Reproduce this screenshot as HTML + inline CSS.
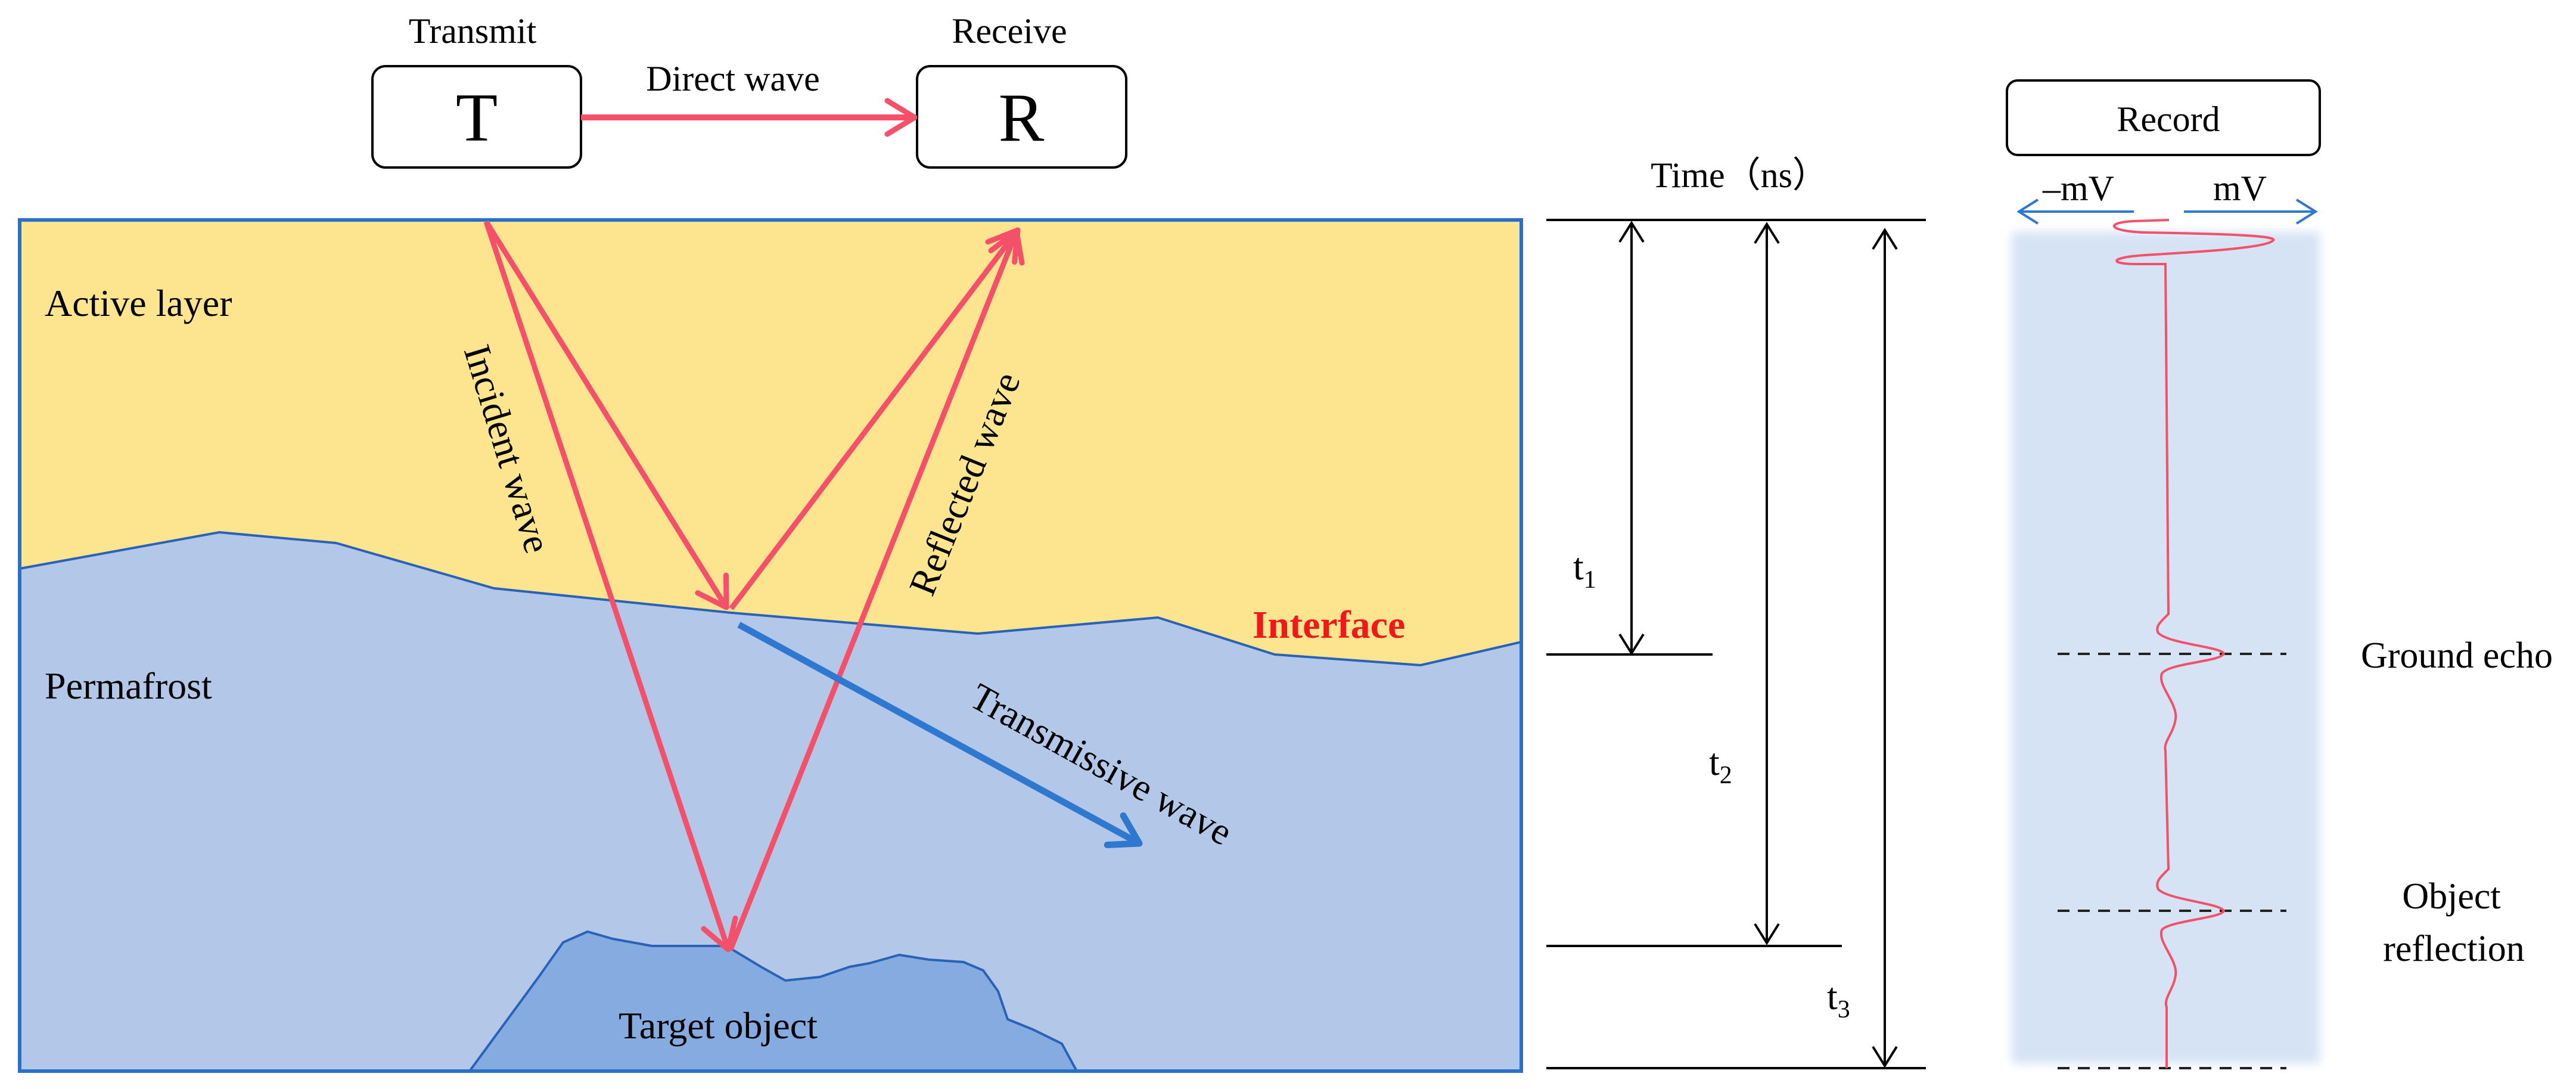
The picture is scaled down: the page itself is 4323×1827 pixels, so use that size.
<!DOCTYPE html>
<html><head><meta charset="utf-8"><style>
html,body{margin:0;padding:0;background:#fff;}
svg{display:block;font-family:"Liberation Serif","Times New Roman",serif;}
svg text{font-family:"Liberation Serif","Times New Roman",serif;}
</style></head><body>
<svg width="4323" height="1827" viewBox="0 0 4323 1827" xmlns="http://www.w3.org/2000/svg" font-family="Liberation Serif, serif">
<defs>
<marker id="ar" markerUnits="userSpaceOnUse" markerWidth="80" markerHeight="80" refX="56" refY="40" orient="auto">
<path d="M10,12 L56,40 L10,68" fill="none" stroke="#f4506a" stroke-width="9" stroke-linecap="round" stroke-linejoin="round"/></marker>
<marker id="ab" markerUnits="userSpaceOnUse" markerWidth="80" markerHeight="80" refX="56" refY="40" orient="auto">
<path d="M10,12 L56,40 L10,68" fill="none" stroke="#2f78d0" stroke-width="11" stroke-linecap="round" stroke-linejoin="round"/></marker>
<marker id="ak" markerUnits="userSpaceOnUse" markerWidth="60" markerHeight="60" refX="40" refY="30" orient="auto">
<path d="M8,10 L40,30 L8,50" fill="none" stroke="#000" stroke-width="4"/></marker>
<marker id="abl" markerUnits="userSpaceOnUse" markerWidth="60" markerHeight="60" refX="40" refY="30" orient="auto">
<path d="M8,10 L40,30 L8,50" fill="none" stroke="#2f78d0" stroke-width="4"/></marker>
<filter id="bl" x="-10%" y="-10%" width="120%" height="120%"><feGaussianBlur stdDeviation="8"/></filter>
</defs>

<!-- top boxes -->
<text x="793" y="72" font-size="60" text-anchor="middle">Transmit</text>
<text x="1694" y="72" font-size="60" text-anchor="middle">Receive</text>
<rect x="625" y="111" width="350" height="170" rx="22" fill="#fff" stroke="#000" stroke-width="4"/>
<rect x="1539" y="111" width="351" height="170" rx="22" fill="#fff" stroke="#000" stroke-width="4"/>
<text x="800" y="236" font-size="115" text-anchor="middle">T</text>
<text x="1714" y="236" font-size="115" text-anchor="middle">R</text>
<text x="1230" y="152" font-size="60" text-anchor="middle">Direct wave</text>
<line x1="975" y1="197" x2="1535" y2="197" stroke="#f4506a" stroke-width="10" marker-end="url(#ar)"/>

<!-- main box -->
<rect x="33" y="369" width="2520" height="1428" fill="#fde590"/>
<polygon points="33,954 368,893 564,911 829,987 1227,1028 1641,1063 1943,1036 2139,1098 2384,1116 2553,1077 2553,1797 33,1797" fill="#b3c8e8"/>
<polyline points="33,954 368,893 564,911 829,987 1227,1028 1641,1063 1943,1036 2139,1098 2384,1116 2553,1077" fill="none" stroke="#2a62b8" stroke-width="4"/>
<polygon points="788,1797 904,1639 945,1581 986,1563 1028,1575 1094,1587 1219,1587 1277,1622 1318,1645 1376,1639 1426,1622 1459,1616 1509,1602 1559,1610 1617,1614 1650,1628 1675,1663 1691,1710 1733,1727 1782,1751 1807,1797" fill="#86abe0" stroke="#2a62b8" stroke-width="4"/>
<rect x="33" y="369" width="2520" height="1428" fill="none" stroke="#2a6fc8" stroke-width="6"/>

<!-- waves -->
<line x1="816" y1="372" x2="1219" y2="1019" stroke="#f4506a" stroke-width="9" marker-end="url(#ar)"/>
<line x1="1227" y1="1021" x2="1708" y2="386" stroke="#f4506a" stroke-width="9" marker-end="url(#ar)"/>
<line x1="816" y1="372" x2="1222" y2="1593" stroke="#f4506a" stroke-width="9" marker-end="url(#ar)"/>
<line x1="1226" y1="1593" x2="1706" y2="388" stroke="#f4506a" stroke-width="9" marker-end="url(#ar)"/>
<line x1="1240" y1="1048" x2="1912" y2="1415" stroke="#2f78d0" stroke-width="11" marker-end="url(#ab)"/>

<text x="75" y="530" font-size="64">Active layer</text>
<text x="75" y="1172" font-size="64">Permafrost</text>
<text transform="translate(845,755) rotate(73)" font-size="64" text-anchor="middle" dominant-baseline="middle">Incident wave</text>
<text transform="translate(1625,814) rotate(-68)" font-size="64" text-anchor="middle" dominant-baseline="middle">Reflected wave</text>
<text transform="translate(1845,1288) rotate(29)" font-size="64" text-anchor="middle" dominant-baseline="middle">Transmissive wave</text>
<text x="2230" y="1070" font-size="66" font-weight="bold" text-anchor="middle" style="fill:#f01818">Interface</text>
<text x="1205" y="1742" font-size="64" text-anchor="middle">Target object</text>

<!-- time axis -->
<text x="2919" y="314" font-size="60" text-anchor="middle">Time（ns）</text>
<g stroke="#000" stroke-width="4">
<line x1="2595" y1="369" x2="3232" y2="369"/>
<line x1="2595" y1="1098" x2="2874" y2="1098"/>
<line x1="2595" y1="1587" x2="3091" y2="1587"/>
<line x1="2595" y1="1792" x2="3232" y2="1792"/>
<line x1="2738" y1="1060" x2="2738" y2="374" marker-end="url(#ak)"/>
<line x1="2738" y1="400" x2="2738" y2="1096" marker-end="url(#ak)"/>
<line x1="2965" y1="1550" x2="2965" y2="376" marker-end="url(#ak)"/>
<line x1="2965" y1="400" x2="2965" y2="1582" marker-end="url(#ak)"/>
<line x1="3163" y1="1750" x2="3163" y2="386" marker-end="url(#ak)"/>
<line x1="3163" y1="420" x2="3163" y2="1788" marker-end="url(#ak)"/>
</g>
<text x="2640" y="972" font-size="64">t<tspan font-size="42" dy="14">1</tspan></text>
<text x="2868" y="1300" font-size="64">t<tspan font-size="42" dy="14">2</tspan></text>
<text x="3066" y="1693" font-size="64">t<tspan font-size="42" dy="14">3</tspan></text>

<!-- record -->
<rect x="3376" y="389" width="517" height="1395" fill="#d6e3f5" filter="url(#bl)"/>
<rect x="3368" y="135" width="525" height="125" rx="18" fill="#fff" stroke="#000" stroke-width="4"/>
<text x="3639" y="220" font-size="60" text-anchor="middle">Record</text>
<text x="3488" y="336" font-size="60" text-anchor="middle">–mV</text>
<text x="3759" y="336" font-size="60" text-anchor="middle">mV</text>
<line x1="3581" y1="355" x2="3388" y2="355" stroke="#2f78d0" stroke-width="4" marker-end="url(#abl)"/>
<line x1="3665" y1="355" x2="3886" y2="355" stroke="#2f78d0" stroke-width="4" marker-end="url(#abl)"/>
<g stroke="#222" stroke-width="4" stroke-dasharray="20,14">
<line x1="3453" y1="1097" x2="3837" y2="1097"/>
<line x1="3453" y1="1528" x2="3837" y2="1528"/>
<line x1="3453" y1="1792" x2="3837" y2="1792"/>
</g>
<path d="M3640,369 L3580,371 C3530,374 3540,388 3600,390 C3700,392 3830,394 3814,404 C3800,416 3700,422 3600,428 C3540,432 3540,442 3580,443 L3634,443 L3639,1030 C3630,1040 3615,1050 3622,1062 C3640,1080 3725,1085 3732,1096 C3730,1110 3640,1112 3628,1130 C3620,1150 3655,1180 3651,1206 C3648,1230 3630,1245 3634,1259 L3639,1458 C3630,1468 3615,1478 3622,1492 C3640,1510 3725,1515 3732,1528 C3730,1540 3640,1545 3628,1560 C3620,1580 3655,1610 3651,1636 C3648,1660 3630,1675 3636,1690 L3636,1792" fill="none" stroke="#f4506a" stroke-width="4"/>
<text x="4123" y="1120" font-size="62" text-anchor="middle">Ground echo</text>
<text x="4114" y="1524" font-size="62" text-anchor="middle">Object</text>
<text x="4118" y="1612" font-size="62" text-anchor="middle">reflection</text>
</svg>
</body></html>
